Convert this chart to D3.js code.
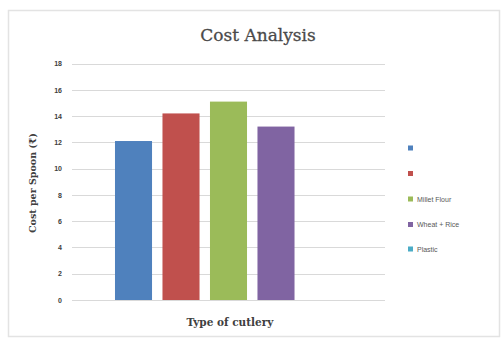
<!DOCTYPE html>
<html><head><meta charset="utf-8">
<script src="https://cdn.jsdelivr.net/npm/d3@7"></script>
<style>html,body{margin:0;padding:0;background:#fff;}</style>
</head><body>
<svg id="c" width="501" height="346"></svg>
<script>
const categories = ["Type of cutlery"];
const seriesNames = ["", "", "Millet Flour", "Wheat + Rice", "Plastic"];
const seriesValues = [12.1, 14.2, 15.1, 13.2, 0];
const seriesColors = ["#4F81BD", "#C0504D", "#9BBB59", "#8064A2", "#4BACC6"];
const yTicks = [0, 2, 4, 6, 8, 10, 12, 14, 16, 18];

const svg = d3.select("#c");
svg.append("rect").attr("x", 8.5).attr("y", 10.5).attr("width", 491).attr("height", 326)
  .attr("fill", "#fff").attr("stroke", "#e3e3e3").attr("stroke-width", 1.5);

const x0 = d3.scaleBand().domain(categories).range([72, 385]).paddingInner(0).paddingOuter(0.159);
const x1 = d3.scaleBand().domain(d3.range(seriesNames.length)).range([0, x0.bandwidth()])
  .paddingInner(0.22).paddingOuter(0.11);
const y = d3.scaleLinear().domain([0, 18]).range([300, 63.5]);

const grid = svg.append("g");
grid.selectAll("line").data(yTicks).join("line")
  .attr("x1", 72).attr("x2", 385)
  .attr("y1", d => Math.round(y(d)) + 0.5).attr("y2", d => Math.round(y(d)) + 0.5)
  .attr("stroke", "#d9d9d9").attr("stroke-width", 1);

const yAxis = d3.axisLeft(y).tickValues(yTicks).tickSize(0).tickPadding(10);
const ya = svg.append("g").attr("transform", "translate(72,0)").call(yAxis);
ya.select(".domain").remove();
ya.selectAll("text").attr("font-family", "Liberation Sans, Arial, sans-serif").attr("font-size", 7)
  .attr("fill", "#404040").attr("font-weight", "bold");

const g = svg.append("g");
categories.forEach(cat => {
  g.selectAll("rect.bar").data(seriesValues).join("rect").attr("class", "bar")
    .attr("x", (d, i) => x0(cat) + x1(i))
    .attr("width", x1.bandwidth())
    .attr("y", d => y(d))
    .attr("height", d => y(0) - y(d))
    .attr("fill", (d, i) => seriesColors[i]);
});

svg.append("text").attr("x", 258).attr("y", 41).attr("text-anchor", "middle")
  .attr("font-family", "DejaVu Serif, serif").attr("font-size", 17).attr("fill", "#4a4a4a")
  .attr("stroke", "#4a4a4a").attr("stroke-width", 0.3)
  .text("Cost Analysis");

svg.append("text").attr("x", 230).attr("y", 326).attr("text-anchor", "middle")
  .attr("font-family", "DejaVu Serif, serif").attr("font-size", 10.5).attr("font-weight", "bold").attr("fill", "#404040")
  .text(categories[0]);

svg.append("text").attr("transform", "translate(36,183) rotate(-90)").attr("text-anchor", "middle")
  .attr("font-family", "DejaVu Serif, serif").attr("font-size", 9.5).attr("font-weight", "bold").attr("fill", "#404040")
  .text("Cost per Spoon (₹)");

const legY = [148, 173.5, 199, 224.5, 249];
const leg = svg.append("g");
seriesNames.forEach((n, i) => {
  leg.append("rect").attr("x", 408).attr("y", legY[i] - 2.5).attr("width", 5).attr("height", 5).attr("fill", seriesColors[i]);
  leg.append("text").attr("x", 417).attr("y", legY[i] + 2.5)
    .attr("font-family", "Liberation Sans, Arial, sans-serif").attr("font-size", 7).attr("fill", "#595959")
    .text(n);
});
</script>
</body></html>
